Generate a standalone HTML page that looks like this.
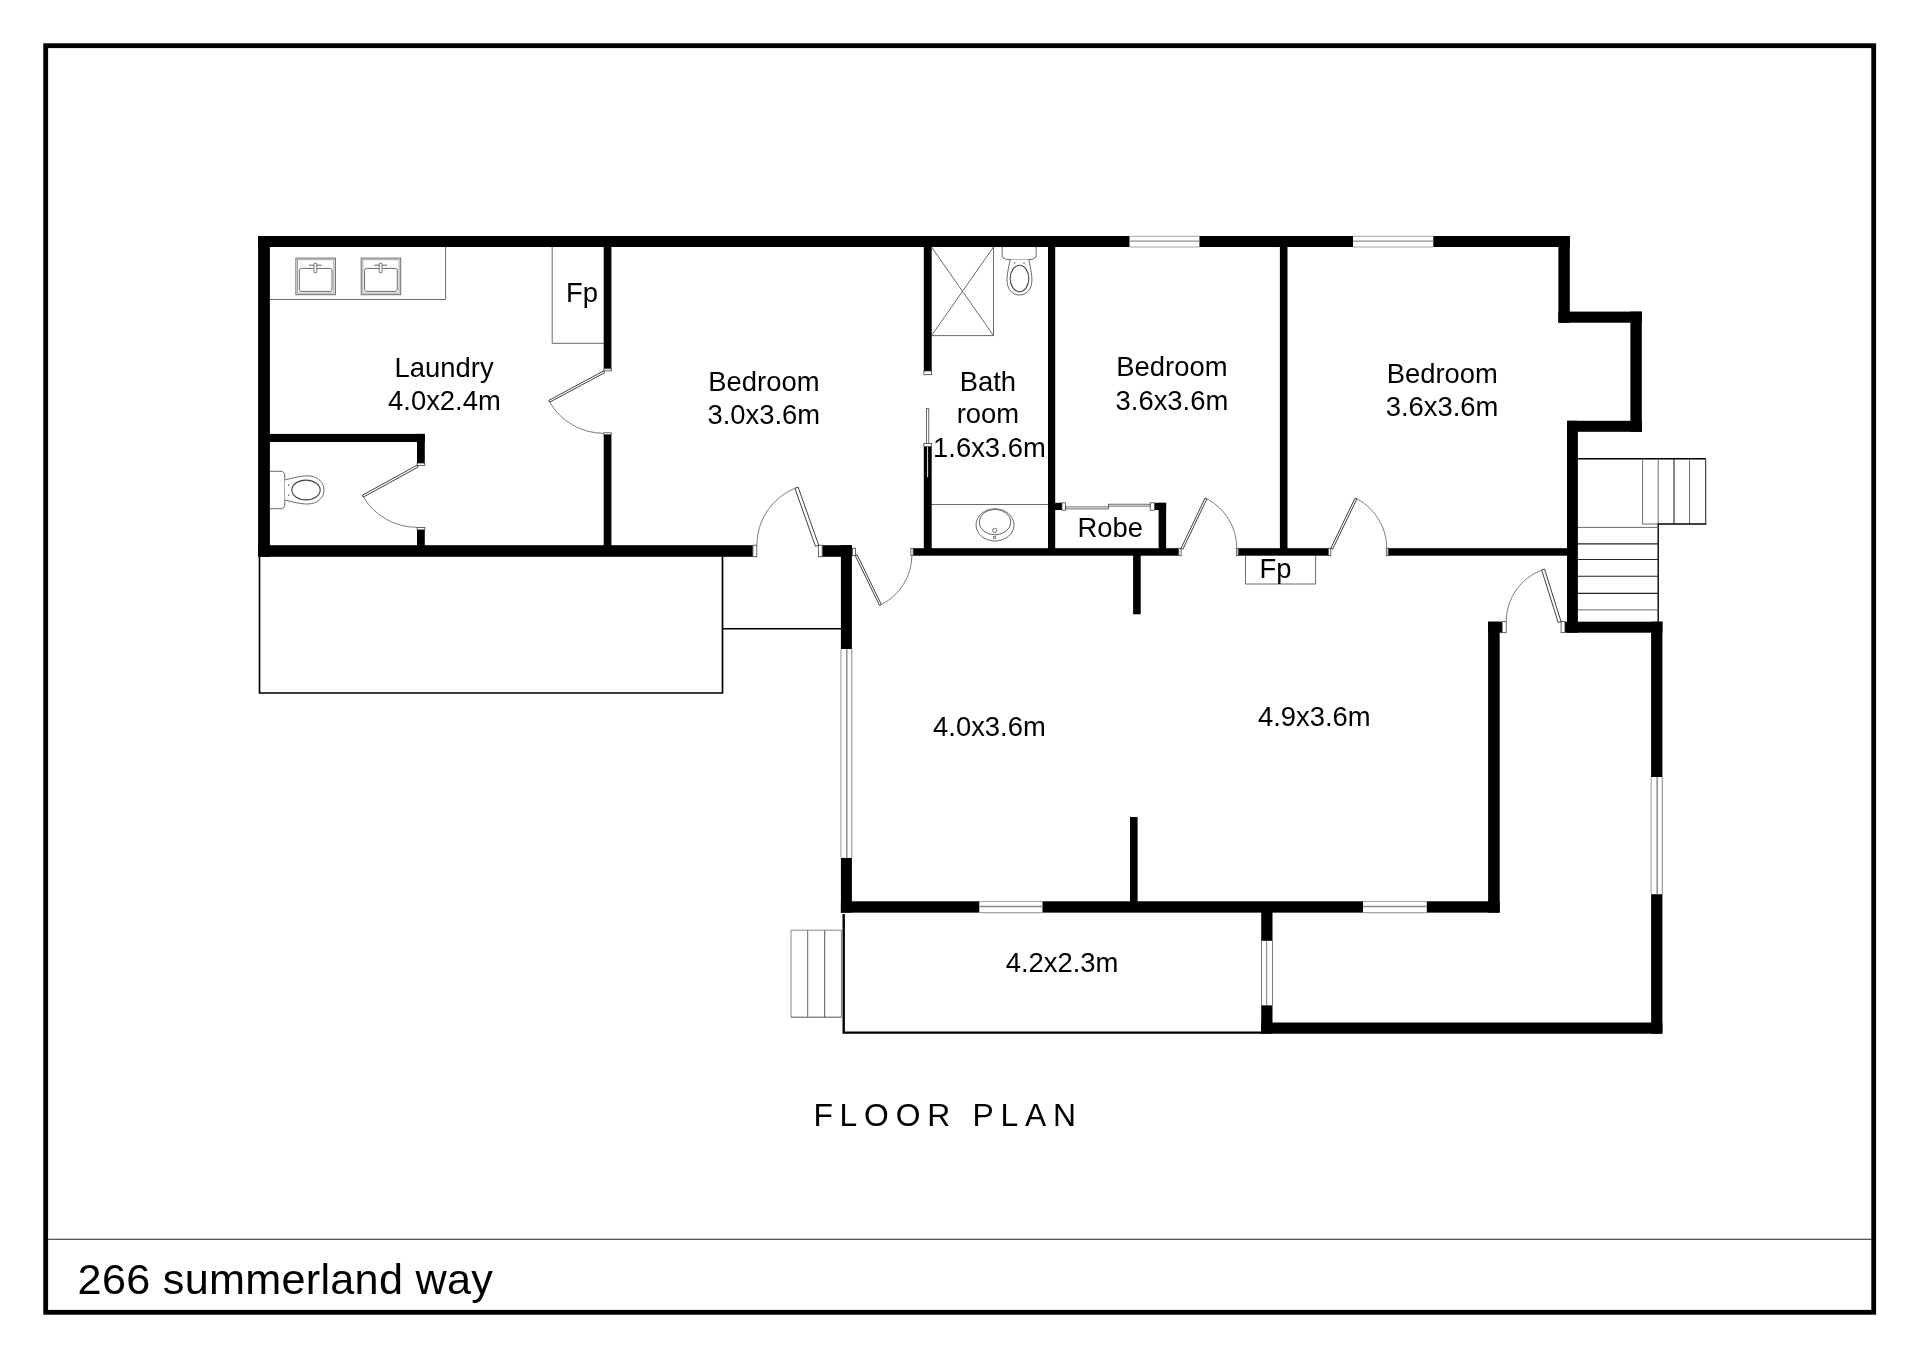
<!DOCTYPE html>
<html lang="en"><head><meta charset="utf-8"><title>Floor Plan - 266 summerland way</title>
<style>html,body{margin:0;padding:0;background:#fff}svg{display:block;will-change:transform;transform:translateZ(0)}</style></head>
<body>
<svg width="1920" height="1357" viewBox="0 0 1920 1357" font-family="'Liberation Sans', sans-serif" fill="#000">
<rect x="0.00" y="0.00" width="1920.00" height="1357.00" fill="#fff" />
<rect x="45.7" y="45.7" width="1828" height="1266.6" fill="none" stroke="#000" stroke-width="4.8"/>
<line x1="48.00" y1="1239.20" x2="1872.00" y2="1239.20" stroke="#222" stroke-width="1.1"/>
<path d="M259.5,556 V693 H722.5 V556" fill="none" stroke="#000" stroke-width="1.7"/>
<line x1="722.50" y1="628.80" x2="842.00" y2="628.80" stroke="#000" stroke-width="1.6"/>
<path d="M843.7,914 V1032.6 H1262" fill="none" stroke="#000" stroke-width="2.4"/>
<line x1="791.00" y1="930.20" x2="841.50" y2="930.20" stroke="#8a8a8a" stroke-width="1.0"/>
<line x1="791.00" y1="930.20" x2="791.00" y2="1017.20" stroke="#8a8a8a" stroke-width="1.0"/>
<line x1="791.00" y1="1017.20" x2="841.50" y2="1017.20" stroke="#555" stroke-width="1.0"/>
<line x1="841.40" y1="930.20" x2="841.40" y2="1017.20" stroke="#888" stroke-width="1.0"/>
<line x1="807.70" y1="930.20" x2="807.70" y2="1017.20" stroke="#666" stroke-width="1.0"/>
<line x1="824.70" y1="930.20" x2="824.70" y2="1017.20" stroke="#555" stroke-width="1.0"/>
<line x1="1578.00" y1="458.70" x2="1705.70" y2="458.70" stroke="#000" stroke-width="1.5"/>
<line x1="1642.60" y1="458.70" x2="1642.60" y2="524.00" stroke="#6a6a6a" stroke-width="1.0"/>
<line x1="1658.20" y1="458.70" x2="1658.20" y2="524.00" stroke="#6a6a6a" stroke-width="1.0"/>
<line x1="1674.00" y1="458.70" x2="1674.00" y2="524.00" stroke="#222" stroke-width="1.1"/>
<line x1="1689.60" y1="458.70" x2="1689.60" y2="524.00" stroke="#6a6a6a" stroke-width="1.0"/>
<line x1="1705.70" y1="458.70" x2="1705.70" y2="524.00" stroke="#333" stroke-width="1.1"/>
<line x1="1642.60" y1="524.00" x2="1658.20" y2="524.00" stroke="#6a6a6a" stroke-width="1.0"/>
<line x1="1658.20" y1="524.00" x2="1706.30" y2="524.00" stroke="#000" stroke-width="1.6"/>
<line x1="1658.20" y1="523.40" x2="1658.20" y2="622.00" stroke="#000" stroke-width="1.4"/>
<line x1="1578.00" y1="527.40" x2="1658.20" y2="527.40" stroke="#6a6a6a" stroke-width="1.0"/>
<line x1="1578.00" y1="543.90" x2="1658.20" y2="543.90" stroke="#222" stroke-width="1.1"/>
<line x1="1578.00" y1="559.50" x2="1658.20" y2="559.50" stroke="#222" stroke-width="1.1"/>
<line x1="1578.00" y1="576.20" x2="1658.20" y2="576.20" stroke="#222" stroke-width="1.1"/>
<line x1="1578.00" y1="593.40" x2="1658.20" y2="593.40" stroke="#222" stroke-width="1.1"/>
<line x1="1578.00" y1="609.90" x2="1658.20" y2="609.90" stroke="#6a6a6a" stroke-width="1.0"/>
<path d="M269.5,299.5 H445.6 V247" fill="none" stroke="#6a6a6a" stroke-width="1.0"/>
<path d="M604,343.3 H552.2 V247" fill="none" stroke="#6a6a6a" stroke-width="1.0"/>
<path d="M1245.5,556 V584 H1315.6 V556" fill="none" stroke="#6a6a6a" stroke-width="1.0"/>
<path d="M931.5,335.6 H993.5 V247 M931.5,247 L993.5,335.6 M993.5,247 L931.5,335.6" fill="none" stroke="#6a6a6a" stroke-width="1.0"/>
<line x1="931.00" y1="504.50" x2="1048.50" y2="504.50" stroke="#6a6a6a" stroke-width="1.0"/>
<ellipse cx="995" cy="524.9" rx="19" ry="16.1" fill="#fff" stroke="#6a6a6a" stroke-width="1.0"/>
<ellipse cx="995" cy="522.1" rx="15.8" ry="12.7" fill="none" stroke="#6a6a6a" stroke-width="1.0"/>
<circle cx="994.7" cy="530.4" r="2.2" fill="none" stroke="#6a6a6a" stroke-width="0.9"/>
<rect x="993.4" y="536.3" width="2.3" height="2.3" fill="none" stroke="#6a6a6a" stroke-width="0.8"/>
<rect x="295.9" y="258.1" width="39.5" height="36.599999999999966" fill="#fff" stroke="#6a6a6a" stroke-width="1"/>
<rect x="297.5" y="259.70000000000005" width="36.3" height="33.39999999999996" fill="none" stroke="#999" stroke-width="0.9"/>
<rect x="299.29999999999995" y="268.40000000000003" width="32.7" height="23" rx="2" fill="#fff" stroke="#6a6a6a" stroke-width="1"/>
<line x1="308.85" y1="265.20" x2="321.85" y2="265.20" stroke="#555" stroke-width="0.9"/>
<rect x="313.95" y="263.3" width="2.8" height="9.4" rx="0.2" fill="#fff" stroke="#6a6a6a" stroke-width="0.9"/>
<rect x="361.2" y="258.1" width="39.5" height="36.599999999999966" fill="#fff" stroke="#6a6a6a" stroke-width="1"/>
<rect x="362.8" y="259.70000000000005" width="36.3" height="33.39999999999996" fill="none" stroke="#999" stroke-width="0.9"/>
<rect x="364.59999999999997" y="268.40000000000003" width="32.7" height="23" rx="2" fill="#fff" stroke="#6a6a6a" stroke-width="1"/>
<line x1="374.15" y1="265.20" x2="387.15" y2="265.20" stroke="#555" stroke-width="0.9"/>
<rect x="379.25" y="263.3" width="2.8" height="9.4" rx="0.2" fill="#fff" stroke="#6a6a6a" stroke-width="0.9"/>
<path d="M270,471.3 H282.5 L284.8,474 V506 L282.5,508.7 H270" fill="#fff" stroke="#6a6a6a" stroke-width="1.0"/>
<path d="M284.8,480 C296,477 304,475.6 308,475.8 C318,476.3 324,482.5 324,490 C324,497.5 318,503.6 308,504 C304,504.2 296,503 284.8,500" fill="#fff" stroke="#6a6a6a" stroke-width="1.0"/>
<ellipse cx="306" cy="490" rx="14.2" ry="9.9" fill="none" stroke="#444" stroke-width="1.1"/>
<circle cx="288.6" cy="485" r="0.8" fill="#555"/><circle cx="288.6" cy="495" r="0.8" fill="#555"/>
<path d="M1002.2,247 V257 L1006.4,259.5 H1032 L1036.2,257 V247" fill="#fff" stroke="#6a6a6a" stroke-width="1.0"/>
<path d="M1010.2,259.5 C1008,270 1006.8,277 1007,281 C1007.4,290 1013,295 1019.4,295 C1026,295 1031.6,290 1031.9,281 C1032.1,277 1031,270 1028.8,259.5" fill="#fff" stroke="#6a6a6a" stroke-width="1.0"/>
<ellipse cx="1019.5" cy="278.5" rx="9.3" ry="13.2" fill="none" stroke="#444" stroke-width="1.1"/>
<circle cx="1014.6" cy="263" r="0.8" fill="#555"/><circle cx="1024" cy="263" r="0.8" fill="#555"/>
<rect x="258.10" y="236.00" width="1311.70" height="11.00" fill="#000" />
<rect x="258.10" y="236.00" width="11.80" height="320.80" fill="#000" />
<rect x="258.10" y="545.20" width="494.80" height="11.60" fill="#000" />
<rect x="822.20" y="545.20" width="29.70" height="11.60" fill="#000" />
<rect x="603.70" y="246.00" width="7.70" height="122.80" fill="#000" />
<rect x="603.70" y="434.60" width="7.70" height="111.40" fill="#000" />
<rect x="269.00" y="433.90" width="155.80" height="8.10" fill="#000" />
<rect x="417.00" y="433.90" width="7.80" height="29.20" fill="#000" />
<rect x="417.00" y="529.80" width="7.80" height="16.20" fill="#000" />
<rect x="923.80" y="246.00" width="7.90" height="125.00" fill="#000" />
<rect x="923.80" y="446.50" width="7.90" height="102.50" fill="#000" />
<rect x="1048.00" y="246.00" width="7.20" height="303.00" fill="#000" />
<rect x="1279.90" y="246.00" width="7.60" height="303.00" fill="#000" />
<rect x="1558.40" y="236.00" width="11.40" height="86.70" fill="#000" />
<rect x="1558.40" y="311.60" width="83.40" height="11.10" fill="#000" />
<rect x="1630.40" y="311.60" width="11.40" height="120.20" fill="#000" />
<rect x="1567.00" y="420.80" width="74.80" height="11.00" fill="#000" />
<rect x="1567.00" y="420.80" width="10.90" height="211.90" fill="#000" />
<rect x="913.10" y="548.20" width="265.70" height="7.50" fill="#000" />
<rect x="1238.10" y="548.20" width="90.40" height="7.50" fill="#000" />
<rect x="1388.10" y="548.20" width="179.90" height="7.50" fill="#000" />
<rect x="1055.00" y="502.80" width="7.00" height="7.20" fill="#000" />
<rect x="1154.40" y="502.80" width="11.70" height="7.20" fill="#000" />
<rect x="1158.60" y="502.80" width="7.50" height="46.20" fill="#000" />
<rect x="840.90" y="545.20" width="11.00" height="104.00" fill="#000" />
<rect x="840.90" y="857.70" width="11.00" height="54.90" fill="#000" />
<rect x="840.90" y="901.30" width="658.80" height="11.35" fill="#000" />
<rect x="1488.10" y="621.70" width="11.60" height="290.95" fill="#000" />
<rect x="1488.10" y="621.70" width="14.10" height="11.00" fill="#000" />
<rect x="1133.10" y="555.00" width="7.60" height="59.30" fill="#000" />
<rect x="1130.00" y="817.00" width="7.60" height="85.00" fill="#000" />
<rect x="1564.90" y="621.70" width="97.50" height="11.00" fill="#000" />
<rect x="1651.10" y="621.70" width="11.30" height="412.00" fill="#000" />
<rect x="1261.20" y="1022.50" width="401.20" height="11.20" fill="#000" />
<rect x="1261.20" y="912.00" width="11.30" height="28.90" fill="#000" />
<rect x="1261.20" y="1005.20" width="11.30" height="28.50" fill="#000" />
<rect x="1129.50" y="235.50" width="69.90" height="12.00" fill="#fff" />
<line x1="1129.50" y1="236.20" x2="1199.40" y2="236.20" stroke="#a2a2a2" stroke-width="1.1"/>
<line x1="1129.50" y1="247.00" x2="1199.40" y2="247.00" stroke="#a2a2a2" stroke-width="1.1"/>
<line x1="1129.50" y1="241.10" x2="1199.40" y2="241.10" stroke="#8c8c8c" stroke-width="1.4"/>
<rect x="1353.00" y="235.50" width="80.30" height="12.00" fill="#fff" />
<line x1="1353.00" y1="236.20" x2="1433.30" y2="236.20" stroke="#a2a2a2" stroke-width="1.1"/>
<line x1="1353.00" y1="247.00" x2="1433.30" y2="247.00" stroke="#a2a2a2" stroke-width="1.1"/>
<line x1="1353.00" y1="241.10" x2="1433.30" y2="241.10" stroke="#8c8c8c" stroke-width="1.4"/>
<rect x="979.30" y="900.80" width="63.20" height="12.35" fill="#fff" />
<line x1="979.30" y1="901.50" x2="1042.50" y2="901.50" stroke="#a2a2a2" stroke-width="1.1"/>
<line x1="979.30" y1="912.65" x2="1042.50" y2="912.65" stroke="#a2a2a2" stroke-width="1.1"/>
<line x1="979.30" y1="906.57" x2="1042.50" y2="906.57" stroke="#8c8c8c" stroke-width="1.4"/>
<rect x="1363.00" y="900.80" width="63.80" height="12.35" fill="#fff" />
<line x1="1363.00" y1="901.50" x2="1426.80" y2="901.50" stroke="#a2a2a2" stroke-width="1.1"/>
<line x1="1363.00" y1="912.65" x2="1426.80" y2="912.65" stroke="#a2a2a2" stroke-width="1.1"/>
<line x1="1363.00" y1="906.57" x2="1426.80" y2="906.57" stroke="#8c8c8c" stroke-width="1.4"/>
<rect x="840.40" y="649.20" width="12.00" height="208.50" fill="#fff" />
<line x1="840.90" y1="649.20" x2="840.90" y2="857.70" stroke="#aaa" stroke-width="1.2"/>
<line x1="851.80" y1="649.20" x2="851.80" y2="857.70" stroke="#999" stroke-width="1.2"/>
<line x1="846.80" y1="649.20" x2="846.80" y2="857.70" stroke="#858585" stroke-width="1.4"/>
<rect x="1650.60" y="777.00" width="12.30" height="117.20" fill="#fff" />
<line x1="1651.10" y1="777.00" x2="1651.10" y2="894.20" stroke="#aaa" stroke-width="1.2"/>
<line x1="1662.30" y1="777.00" x2="1662.30" y2="894.20" stroke="#999" stroke-width="1.2"/>
<line x1="1657.15" y1="777.00" x2="1657.15" y2="894.20" stroke="#858585" stroke-width="1.4"/>
<rect x="1260.70" y="940.90" width="12.30" height="64.30" fill="#fff" />
<line x1="1261.50" y1="940.90" x2="1261.50" y2="1005.20" stroke="#6a6a6a" stroke-width="0.9"/>
<line x1="1266.65" y1="940.90" x2="1266.65" y2="1005.20" stroke="#6a6a6a" stroke-width="0.9"/>
<line x1="1272.50" y1="940.90" x2="1272.50" y2="1005.20" stroke="#6a6a6a" stroke-width="0.9"/>
<rect x="752.90" y="545.20" width="3.90" height="11.50" fill="#fff" stroke="#444" stroke-width="0.8"/>
<rect x="818.40" y="545.20" width="3.80" height="11.50" fill="#fff" stroke="#444" stroke-width="0.8"/>
<rect x="603.80" y="368.80" width="7.50" height="2.10" fill="#fff" stroke="#444" stroke-width="0.8"/>
<rect x="603.80" y="432.80" width="7.50" height="1.80" fill="#fff" stroke="#444" stroke-width="0.8"/>
<rect x="417.10" y="463.10" width="7.70" height="2.40" fill="#fff" stroke="#444" stroke-width="0.8"/>
<rect x="417.10" y="527.50" width="7.70" height="2.30" fill="#fff" stroke="#444" stroke-width="0.8"/>
<rect x="923.90" y="371.00" width="7.70" height="3.70" fill="#fff" stroke="#444" stroke-width="0.8"/>
<rect x="852.40" y="548.30" width="3.20" height="7.30" fill="#fff" stroke="#444" stroke-width="0.8"/>
<rect x="910.90" y="548.30" width="2.20" height="7.30" fill="#fff" stroke="#444" stroke-width="0.8"/>
<rect x="1178.80" y="548.30" width="2.30" height="7.40" fill="#fff" stroke="#444" stroke-width="0.8"/>
<rect x="1236.30" y="548.30" width="1.80" height="7.40" fill="#fff" stroke="#444" stroke-width="0.8"/>
<rect x="1328.50" y="548.30" width="2.30" height="7.40" fill="#fff" stroke="#444" stroke-width="0.8"/>
<rect x="1386.30" y="548.30" width="1.80" height="7.40" fill="#fff" stroke="#444" stroke-width="0.8"/>
<rect x="1502.20" y="621.50" width="4.00" height="11.20" fill="#fff" stroke="#444" stroke-width="0.8"/>
<rect x="1561.10" y="621.50" width="3.80" height="11.20" fill="#fff" stroke="#444" stroke-width="0.8"/>
<rect x="1062.00" y="502.80" width="3.60" height="7.40" fill="#fff" stroke="#444" stroke-width="0.8"/>
<rect x="1150.20" y="502.80" width="4.20" height="7.40" fill="#fff" stroke="#444" stroke-width="0.8"/>
<rect x="1065.60" y="506.90" width="42.90" height="2.00" fill="#fff" stroke="#444" stroke-width="0.8"/>
<rect x="1108.50" y="504.20" width="41.70" height="1.90" fill="#fff" stroke="#444" stroke-width="0.8"/>
<rect x="926.4" y="408.6" width="2.4" height="35" fill="#fff" stroke="#444" stroke-width="0.8"/>
<rect x="923.90" y="443.40" width="7.70" height="3.20" fill="#fff" stroke="#444" stroke-width="0.8"/>
<line x1="927.60" y1="446.90" x2="927.60" y2="477.20" stroke="#fff" stroke-width="0.9"/>
<polygon points="603.70,370.90 548.80,400.40 549.75,402.16 604.65,372.66" fill="#fff" stroke="#2a2a2a" stroke-width="0.9"/>
<path d="M549.75,402.16 A62.36,62.36 0 0 0 603.70,433.30" fill="none" stroke="#666" stroke-width="0.85"/>
<polygon points="417.10,465.20 362.40,495.20 363.41,497.04 418.11,467.04" fill="#fff" stroke="#2a2a2a" stroke-width="0.9"/>
<path d="M363.41,497.04 A62.42,62.42 0 0 0 417.10,527.30" fill="none" stroke="#666" stroke-width="0.85"/>
<polygon points="818.70,545.20 798.10,487.10 794.90,488.24 815.50,546.34" fill="#fff" stroke="#2a2a2a" stroke-width="0.9"/>
<path d="M794.90,488.24 A61.74,61.74 0 0 0 756.80,545.20" fill="none" stroke="#666" stroke-width="0.85"/>
<polygon points="855.30,555.60 879.50,605.40 881.30,604.53 857.10,554.73" fill="#fff" stroke="#2a2a2a" stroke-width="0.9"/>
<path d="M881.30,604.53 A55.40,55.40 0 0 0 911.90,555.60" fill="none" stroke="#666" stroke-width="0.85"/>
<polygon points="1181.10,548.30 1205.10,498.00 1206.91,498.86 1182.91,549.16" fill="#fff" stroke="#2a2a2a" stroke-width="0.9"/>
<path d="M1206.91,498.86 A55.77,55.77 0 0 1 1236.80,548.30" fill="none" stroke="#666" stroke-width="0.85"/>
<polygon points="1330.80,548.30 1355.10,498.00 1356.90,498.87 1332.60,549.17" fill="#fff" stroke="#2a2a2a" stroke-width="0.9"/>
<path d="M1356.90,498.87 A55.90,55.90 0 0 1 1386.80,548.30" fill="none" stroke="#666" stroke-width="0.85"/>
<polygon points="1561.10,621.70 1544.50,569.10 1541.64,570.00 1558.24,622.60" fill="#fff" stroke="#2a2a2a" stroke-width="0.9"/>
<path d="M1541.64,570.00 A55.24,55.24 0 0 0 1506.20,621.40" fill="none" stroke="#666" stroke-width="0.85"/>
<text x="444.1" y="376.6" font-size="27.4" text-anchor="middle" >Laundry</text>
<text x="444.4" y="409.7" font-size="27.4" text-anchor="middle" >4.0x2.4m</text>
<text x="581.9" y="302.3" font-size="27.4" text-anchor="middle" >Fp</text>
<text x="763.9" y="390.8" font-size="27.4" text-anchor="middle" >Bedroom</text>
<text x="763.8" y="423.8" font-size="27.4" text-anchor="middle" >3.0x3.6m</text>
<text x="987.9" y="390.8" font-size="27.4" text-anchor="middle" >Bath</text>
<text x="987.9" y="423.1" font-size="27.4" text-anchor="middle" >room</text>
<text x="989.4" y="456.5" font-size="27.4" text-anchor="middle" >1.6x3.6m</text>
<text x="1171.9" y="376.3" font-size="27.4" text-anchor="middle" >Bedroom</text>
<text x="1171.9" y="409.6" font-size="27.4" text-anchor="middle" >3.6x3.6m</text>
<text x="1442.3" y="382.8" font-size="27.4" text-anchor="middle" >Bedroom</text>
<text x="1442" y="415.5" font-size="27.4" text-anchor="middle" >3.6x3.6m</text>
<text x="1110.2" y="536.9" font-size="27.4" text-anchor="middle" >Robe</text>
<text x="1275.5" y="577.5" font-size="27.4" text-anchor="middle" >Fp</text>
<text x="989.4" y="735.5" font-size="27.4" text-anchor="middle" >4.0x3.6m</text>
<text x="1314.3" y="726.2" font-size="27.4" text-anchor="middle" >4.9x3.6m</text>
<text x="1062" y="972" font-size="27.4" text-anchor="middle" >4.2x2.3m</text>
<text x="813.4" y="1125.7" font-size="31.8" text-anchor="start" letter-spacing="6.8">FLOOR PLAN</text>
<text x="77.6" y="1294.2" font-size="43.2" text-anchor="start" letter-spacing="0.28">266 summerland way</text>
</svg>
</body></html>
